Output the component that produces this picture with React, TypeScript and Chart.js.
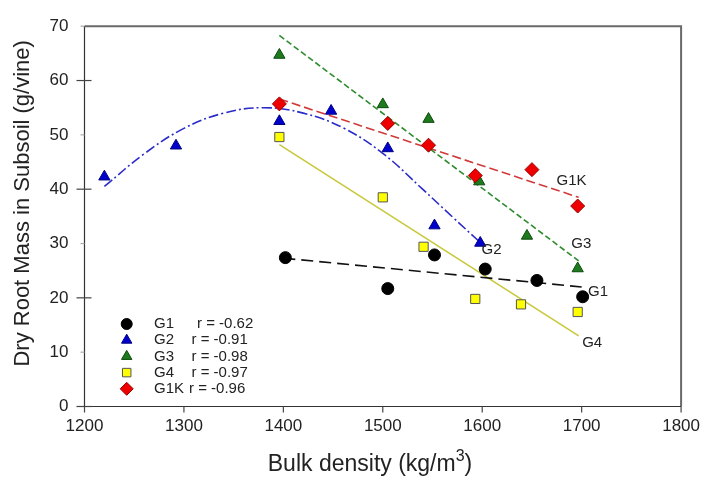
import React, { useEffect, useRef } from 'react';
import { Chart, registerables } from 'chart.js';

Chart.register(...registerables);

// ---- data ----
const xTickValues = [1200, 1300, 1400, 1500, 1600, 1700, 1800];
const xTickLabels = ['1200', '1300', '1400', '1500', '1600', '1700', '1800'];
const yTickValues = [0, 10, 20, 30, 40, 50, 60, 70];
const yTickLabels = ['0', '10', '20', '30', '40', '50', '60', '70'];

const g1X = [1402, 1505, 1552, 1603, 1655, 1701];
const g1Y = [27.4, 21.7, 27.9, 25.3, 23.2, 20.2];
const g2X = [1220, 1292, 1396, 1448, 1505, 1552, 1598];
const g2Y = [42.3, 48.0, 52.5, 54.4, 47.5, 33.3, 30.1];
const g3X = [1396, 1500, 1546, 1597, 1645, 1696];
const g3Y = [64.7, 55.6, 52.9, 41.4, 31.4, 25.4];
const g4X = [1396, 1500, 1541, 1593, 1639, 1696];
const g4Y = [49.6, 38.5, 29.4, 19.8, 18.8, 17.4];
const g1kX = [1396, 1505, 1546, 1593, 1650, 1696];
const g1kY = [55.7, 52.1, 48.1, 42.5, 43.6, 36.9];

// fitted lines / curve
const g1FitX = [1400, 1700];
const g1FitY = [27.3, 22.0];
const g3FitX = [1396, 1697];
const g3FitY = [68.3, 26.8];
const g4FitX = [1396, 1697];
const g4FitY = [48.2, 13.0];
const g1kFitX = [1396, 1697];
const g1kFitY = [56.6, 38.5];
const g2CurveX = [1220, 1260, 1300, 1340, 1380, 1420, 1460, 1500, 1540, 1570, 1598];
const g2CurveY = [40.5, 46.5, 51.2, 54.0, 55.0, 54.0, 51.3, 46.6, 40.0, 34.9, 30.2];

const lineLabels = ['G1K', 'G3', 'G2', 'G1', 'G4'];
const lineLabelX = [1674.7, 1689.6, 1599.3, 1706.4, 1700.5];
const lineLabelY = [41.6, 29.9, 28.8, 21.1, 11.7];

const legendNames = ['G1', 'G2', 'G3', 'G4', 'G1K'];
const legendR = ['r = -0.62', 'r = -0.91', 'r = -0.98', 'r = -0.97', 'r = -0.96'];

const xTitle = 'Bulk density (kg/m';
const xTitleSup = '3';
const xTitleEnd = ')';
const yTitle = 'Dry Root Mass in Subsoil (g/vine)';

const FONT = '"Liberation Sans", Arial, sans-serif';

const styles = [
  { shape: 'circle', fill: '#000000', stroke: '#000000', r: 6 },
  { shape: 'triangle', fill: '#0000CC', stroke: '#000080', r: 6.5 },
  { shape: 'triangle', fill: '#1E7A1E', stroke: '#0C4A0C', r: 6.5 },
  { shape: 'rect', fill: '#FFFF00', stroke: '#555555', r: 6.5 },
  { shape: 'rectRot', fill: '#EE0000', stroke: '#990000', r: 7 },
];

function pts(xs: number[], ys: number[]) {
  return xs.map((x, i) => ({ x, y: ys[i] }));
}

function drawMarker(ctx: CanvasRenderingContext2D, shape: string, x: number, y: number, r: number, fill: string, stroke: string) {
  ctx.beginPath();
  if (shape === 'circle') {
    ctx.arc(x, y, r, 0, Math.PI * 2);
  } else if (shape === 'triangle') {
    for (let k = 0; k < 3; k++) {
      const a = -Math.PI / 2 + (k * 2 * Math.PI) / 3;
      const px = x + Math.cos(a) * r;
      const py = y + Math.sin(a) * r;
      if (k === 0) ctx.moveTo(px, py);
      else ctx.lineTo(px, py);
    }
    ctx.closePath();
  } else if (shape === 'rect') {
    const s = r * Math.SQRT1_2;
    ctx.rect(x - s, y - s, 2 * s, 2 * s);
  } else {
    ctx.moveTo(x, y - r);
    ctx.lineTo(x + r, y);
    ctx.lineTo(x, y + r);
    ctx.lineTo(x - r, y);
    ctx.closePath();
  }
  ctx.fillStyle = fill;
  ctx.fill();
  ctx.strokeStyle = stroke;
  ctx.lineWidth = 1;
  ctx.stroke();
}

export default function App() {
  const ref = useRef<HTMLCanvasElement>(null);

  useEffect(() => {
    document.body.style.margin = '0';
    const canvas = ref.current!;

    const decor = {
      id: 'decor',
      afterDraw(chart: any) {
        const ctx: CanvasRenderingContext2D = chart.ctx;
        const { left, right, top, bottom } = chart.chartArea;
        const xs = chart.scales.x;
        const ys = chart.scales.y;
        ctx.save();

        // frame top/right
        ctx.strokeStyle = '#6a6a6a';
        ctx.lineWidth = 2;
        ctx.beginPath();
        ctx.moveTo(left, top);
        ctx.lineTo(right, top);
        ctx.lineTo(right, bottom);
        ctx.stroke();
        // left & bottom axes
        ctx.strokeStyle = '#333333';
        ctx.lineWidth = 1.2;
        ctx.beginPath();
        ctx.moveTo(left, top);
        ctx.lineTo(left, bottom);
        ctx.lineTo(right, bottom);
        ctx.stroke();

        // y ticks
        yTickValues.forEach((v) => {
          const py = ys.getPixelForValue(v);
          ctx.beginPath();
          if (v % 20 === 0) {
            ctx.strokeStyle = '#444444';
            ctx.moveTo(left - 8, py);
            ctx.lineTo(left + 7, py);
          } else {
            ctx.strokeStyle = '#aaaaaa';
            ctx.moveTo(left - 4, py);
            ctx.lineTo(left, py);
          }
          ctx.lineWidth = 1.2;
          ctx.stroke();
        });
        // x ticks
        xTickValues.forEach((v) => {
          const px = xs.getPixelForValue(v);
          ctx.beginPath();
          ctx.strokeStyle = '#444444';
          ctx.lineWidth = 1.2;
          ctx.moveTo(px, bottom);
          ctx.lineTo(px, bottom + 6);
          ctx.stroke();
        });

        // y title
        ctx.fillStyle = '#222222';
        ctx.font = `22px ${FONT}`;
        ctx.textAlign = 'center';
        ctx.textBaseline = 'middle';
        ctx.save();
        ctx.translate(23, (top + bottom) / 2 - 13);
        ctx.rotate(-Math.PI / 2);
        ctx.fillText(yTitle, 0, 0);
        ctx.restore();

        // x title with superscript
        ctx.textAlign = 'left';
        ctx.textBaseline = 'alphabetic';
        ctx.font = `23px ${FONT}`;
        const w1 = ctx.measureText(xTitle).width;
        const w3 = ctx.measureText(xTitleEnd).width;
        ctx.font = `16px ${FONT}`;
        const w2 = ctx.measureText(xTitleSup).width;
        const total = w1 + w2 + w3;
        const cx = 370;
        const base = 471;
        let sx = cx - total / 2;
        ctx.font = `23px ${FONT}`;
        ctx.fillText(xTitle, sx, base);
        sx += w1;
        ctx.font = `16px ${FONT}`;
        ctx.fillText(xTitleSup, sx, base - 10);
        sx += w2;
        ctx.font = `23px ${FONT}`;
        ctx.fillText(xTitleEnd, sx, base);

        // line labels
        ctx.font = `15px ${FONT}`;
        ctx.fillStyle = '#222222';
        ctx.textBaseline = 'middle';
        ctx.textAlign = 'left';
        lineLabels.forEach((t, i) => {
          ctx.fillText(t, xs.getPixelForValue(lineLabelX[i]), ys.getPixelForValue(lineLabelY[i]));
        });

        // legend
        const legY0 = 324;
        const legStep = 16.2;
        const rX = [197, 191.5, 191.5, 191.5, 189];
        legendNames.forEach((n, i) => {
          const y = legY0 + i * legStep;
          const st = styles[i];
          drawMarker(ctx, st.shape, 126.7, y, st.shape === 'circle' ? 5.5 : st.r - 0.5, st.fill, st.stroke);
          ctx.fillStyle = '#222222';
          ctx.font = `15px ${FONT}`;
          ctx.fillText(n, 154, y);
          ctx.fillText(legendR[i], rX[i], y);
        });

        ctx.restore();
      },
    };

    const pointDs = (xs: number[], ys: number[], i: number) => ({
      data: pts(xs, ys),
      pointStyle: styles[i].shape,
      pointRadius: styles[i].r,
      pointBackgroundColor: styles[i].fill,
      pointBorderColor: styles[i].stroke,
      pointBorderWidth: 1,
      showLine: false,
    });
    const lineDs = (xs: number[], ys: number[], color: string, dash: number[], tension = 0) => ({
      data: pts(xs, ys),
      showLine: true,
      borderColor: color,
      borderWidth: 1.6,
      borderDash: dash,
      pointRadius: 0,
      fill: false,
      tension,
    });

    const chart = new Chart(canvas, {
      type: 'scatter',
      data: {
        datasets: [
          pointDs(g1kX, g1kY, 4),
          pointDs(g1X, g1Y, 0),
          pointDs(g2X, g2Y, 1),
          pointDs(g3X, g3Y, 2),
          pointDs(g4X, g4Y, 3),
          lineDs(g1FitX, g1FitY, '#111111', [12, 6]),
          lineDs(g2CurveX, g2CurveY, '#2B2BC8', [10, 3, 2, 3], 0.4),
          lineDs(g3FitX, g3FitY, '#2E8B2E', [6, 3]),
          lineDs(g4FitX, g4FitY, '#C8C83C', []),
          lineDs(g1kFitX, g1kFitY, '#D03A3A', [9, 4]),
        ] as any,
      },
      options: {
        animation: false,
        responsive: false,
        layout: { padding: { top: 20, right: 21, left: 0, bottom: 0 } },
        plugins: { legend: { display: false }, tooltip: { enabled: false } },
        scales: {
          x: {
            type: 'linear',
            min: 1200,
            max: 1800,
            grid: { display: false, drawTicks: false },
            border: { display: false },
            afterBuildTicks: (s: any) => {
              s.ticks = xTickValues.map((v) => ({ value: v }));
            },
            afterFit: (s: any) => {
              s.height = 72.5;
            },
            ticks: {
              padding: 10,
              color: '#222222',
              font: { size: 17, family: FONT },
              maxRotation: 0,
              autoSkip: false,
              callback: (_v: any, i: number) => xTickLabels[i],
            },
          },
          y: {
            type: 'linear',
            min: 0,
            max: 70,
            grid: { display: false, drawTicks: false },
            border: { display: false },
            afterBuildTicks: (s: any) => {
              s.ticks = yTickValues.map((v) => ({ value: v }));
            },
            afterFit: (s: any) => {
              s.width = 84.5;
            },
            ticks: {
              padding: 16,
              color: '#222222',
              font: { size: 17, family: FONT },
              autoSkip: false,
              callback: (_v: any, i: number) => yTickLabels[i],
            },
          },
        },
      } as any,
      plugins: [decor],
    });

    return () => chart.destroy();
  }, []);

  return (
    <div style={{ position: 'fixed', left: 0, top: 0, width: 710, height: 479, background: '#fff' }}>
      <canvas ref={ref} width={710} height={479} style={{ display: 'block', width: 710, height: 479 }} />
    </div>
  );
}
